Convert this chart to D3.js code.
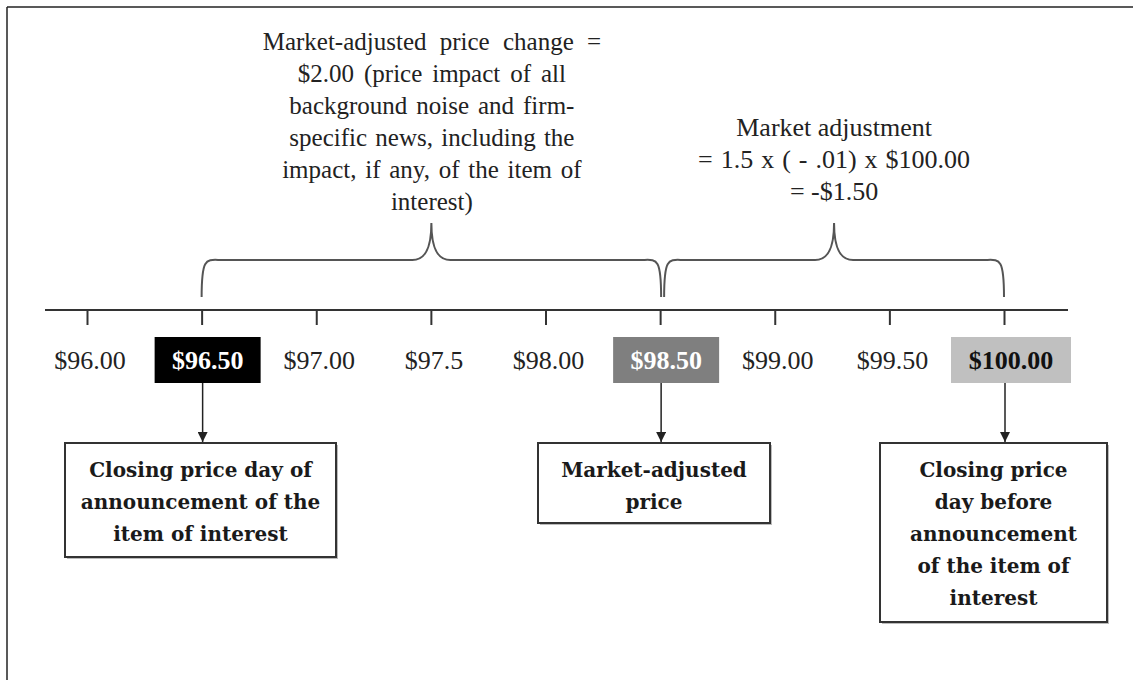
<!DOCTYPE html>
<html>
<head>
<meta charset="utf-8">
<script src="https://cdn.jsdelivr.net/npm/d3@7"></script>
<style>
  html, body { margin: 0; padding: 0; background: #fff; }
  svg { display: block; }
</style>
</head>
<body>
<svg id="chart" width="1133" height="680"></svg>
<script>
// ---- data ----
const tickValues = [96, 96.5, 97, 97.5, 98, 98.5, 99, 99.5, 100];
const tickLabels = ["$96.00", "$96.50", "$97.00", "$97.5", "$98.00", "$98.50", "$99.00", "$99.50", "$100.00"];
const highlightValues = [96.5, 98.5, 100];
const highlightFills = ["#000000", "#7f7f7f", "#c0c0c0"];
const highlightTextColors = ["#ffffff", "#ffffff", "#111111"];
const braceRanges = [[96.5, 98.5], [98.5, 100]];
const braceTexts = [
  ["Market-adjusted price change =",
   "$2.00 (price impact of all",
   "background noise and firm-",
   "specific news, including the",
   "impact, if any, of the item of",
   "interest)"],
  ["Market adjustment",
   "= 1.5 x ( - .01) x $100.00",
   "= -$1.50"]
];
const calloutValues = [96.5, 98.5, 100];
const calloutTexts = [
  ["Closing price day of", "announcement of the", "item of interest"],
  ["Market-adjusted", "price"],
  ["Closing price", "day before", "announcement", "of the item of", "interest"]
];

// ---- layout ----
const svg = d3.select("#chart");
const x = d3.scaleLinear().domain([96, 100]).range([87, 1004]);
const axisY = 310;
const serif = "'Liberation Serif', 'Times New Roman', serif";
const boldSerif = "'DejaVu Serif', serif";

// frame
svg.append("line").attr("x1", 7).attr("x2", 1133).attr("y1", 7).attr("y2", 7)
  .attr("stroke", "#222").attr("stroke-width", 1.5);
svg.append("line").attr("x1", 7).attr("x2", 7).attr("y1", 7).attr("y2", 680)
  .attr("stroke", "#222").attr("stroke-width", 1.5);

// axis
const axisG = svg.append("g").attr("transform", `translate(0,${axisY})`);
axisG.call(d3.axisBottom(x).tickValues(tickValues).tickSize(15).tickSizeOuter(0).tickFormat(""));
axisG.select(".domain").remove();
axisG.selectAll(".tick line").attr("stroke", "#333").attr("stroke-width", 2);
axisG.append("line").attr("x1", 45).attr("x2", 1068).attr("y1", 0).attr("y2", 0)
  .attr("stroke", "#333").attr("stroke-width", 2);

// highlight boxes
const hlW = [106, 106, 120];
highlightValues.forEach((v, i) => {
  svg.append("rect")
    .attr("x", x(v) - hlW[i] / 2 + (i === 2 ? 7 : 6))
    .attr("y", 337).attr("width", hlW[i]).attr("height", 46)
    .attr("fill", highlightFills[i]);
});

// tick labels
tickValues.forEach((v, i) => {
  const hi = highlightValues.indexOf(v);
  const t = svg.append("text")
    .attr("x", x(v) + (hi >= 0 ? (hi === 2 ? 7 : 6) : 3))
    .attr("y", 369)
    .attr("text-anchor", "middle")
    .attr("font-family", serif)
    .attr("font-size", 26)
    .attr("fill", hi >= 0 ? highlightTextColors[hi] : "#222")
    .text(tickLabels[i]);
  if (hi >= 0) t.attr("font-weight", "bold");
});

// braces
function bracePath(x0, x1, yb, yh, yt) {
  const xm = (x0 + x1) / 2;
  const r = 21;
  return `M${x0},${yb} C${x0},${yh - 5} ${x0 + 5},${yh} ${x0 + r},${yh}` +
    ` L${xm - 19},${yh} C${xm - 8},${yh} ${xm},${yh - 8} ${xm},${yt}` +
    ` C${xm},${yh - 8} ${xm + 8},${yh} ${xm + 19},${yh}` +
    ` L${x1 - r},${yh} C${x1 - 5},${yh} ${x1},${yh - 5} ${x1},${yb}`;
}
braceRanges.forEach((r, i) => {
  const x0 = x(r[0]) + (i === 0 ? 0 : 4);
  const x1 = x(r[1]) + (i === 0 ? 1 : 0);
  svg.append("path")
    .attr("d", bracePath(x0, x1, 297, 260, 223))
    .attr("fill", "none").attr("stroke", "#555").attr("stroke-width", 2);
});

// brace texts
const braceTextY = [50, 136];
const braceLineGap = [32, 32];
const braceFont = [25, 26];
const wordSpacing = [[7, 3.7, 2.7, 2, 2.5, 0], [0, 1.5, 0]];
braceTexts.forEach((lines, i) => {
  const r = braceRanges[i];
  const cx = (x(r[0]) + x(r[1])) / 2 + (i === 1 ? 2 : 1);
  lines.forEach((line, j) => {
    svg.append("text")
      .attr("x", cx).attr("y", braceTextY[i] + j * braceLineGap[i])
      .attr("text-anchor", "middle")
      .attr("font-family", serif).attr("font-size", braceFont[i])
      .attr("fill", "#222")
      .attr("word-spacing", wordSpacing[i][j])
      .text(line);
  });
});

// arrows + callout boxes
const defs = svg.append("defs");
defs.append("marker").attr("id", "arrow").attr("viewBox", "0 0 10 10")
  .attr("refX", 10).attr("refY", 5).attr("markerWidth", 10).attr("markerHeight", 10)
  .attr("markerUnits", "userSpaceOnUse").attr("orient", "auto")
  .append("path").attr("d", "M0,0 L10,5 L0,10 Z").attr("fill", "#222");

const boxes = [
  { x0: 65, x1: 336, y0: 443, y1: 557 },
  { x0: 538, x1: 770, y0: 443, y1: 523 },
  { x0: 880, x1: 1107, y0: 443, y1: 622 }
];
calloutValues.forEach((v, i) => {
  const ax = x(v) + 1;
  svg.append("line").attr("x1", ax).attr("x2", ax).attr("y1", 383).attr("y2", 442)
    .attr("stroke", "#222").attr("stroke-width", 1.5).attr("marker-end", "url(#arrow)");
  const b = boxes[i];
  svg.append("rect").attr("x", b.x0 + 2).attr("y", b.y0 + 2)
    .attr("width", b.x1 - b.x0).attr("height", b.y1 - b.y0)
    .attr("fill", "#bbb");
  svg.append("rect").attr("x", b.x0).attr("y", b.y0)
    .attr("width", b.x1 - b.x0).attr("height", b.y1 - b.y0)
    .attr("fill", "#fff").attr("stroke", "#333").attr("stroke-width", 2);
  const cx = (b.x0 + b.x1) / 2;
  calloutTexts[i].forEach((line, j) => {
    svg.append("text")
      .attr("x", cx).attr("y", 477 + j * 32)
      .attr("text-anchor", "middle")
      .attr("font-family", boldSerif).attr("font-weight", "bold")
      .attr("font-size", 20)
      .attr("fill", "#1a1a1a")
      .text(line);
  });
});
</script>
</body>
</html>
